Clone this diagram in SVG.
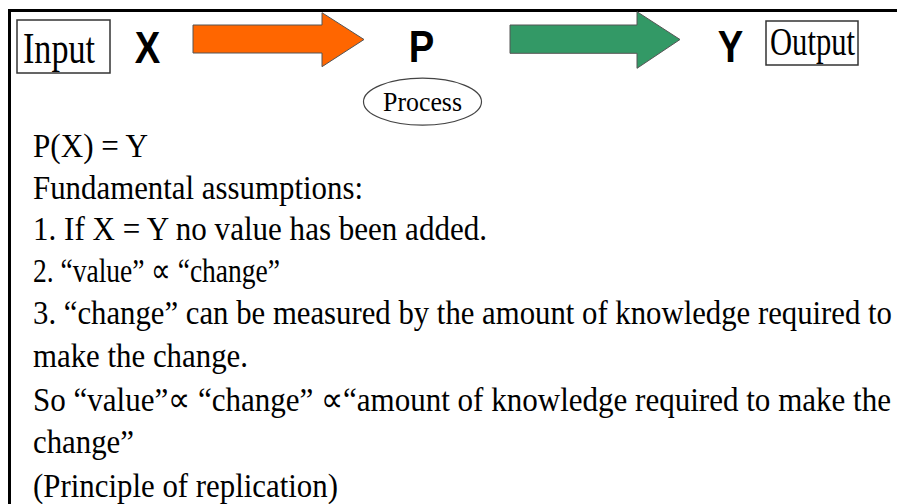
<svg xmlns="http://www.w3.org/2000/svg" width="897" height="504" viewBox="0 0 897 504">
  <style>
    .serif { font-family: "Liberation Serif", "Times New Roman", serif; fill: #000; }
    .sans-b { font-family: "Liberation Sans", Arial, sans-serif; font-weight: bold; fill: #000; }
    .box { fill: #fff; stroke: #333; stroke-width: 1.5; }
    .block { stroke: #555; stroke-width: 1; stroke-linejoin: miter; }
    .body { font-size: 34px; }
  </style>
  <rect width="897" height="504" fill="#fff"/>

  <!-- frame: top rule and left rule -->
  <g id="frame" stroke="#000" stroke-width="3" fill="none">
    <line x1="8" y1="10.5" x2="897" y2="10.5"/>
    <line x1="9.5" y1="9" x2="9.5" y2="504"/>
  </g>

  <!-- top row: input, process, output -->
  <g id="input-box">
    <rect class="box" x="17" y="20" width="93" height="53"/>
    <text class="serif" x="23" y="63" font-size="44" textLength="72" lengthAdjust="spacingAndGlyphs">Input</text>
  </g>
  <g id="x-node">
    <text class="sans-b" transform="translate(147.5,62.5) scale(0.85,1)" text-anchor="middle" font-size="45">X</text>
  </g>
  <g id="p-node">
    <text class="sans-b" transform="translate(421.5,62) scale(0.85,1)" text-anchor="middle" font-size="45">P</text>
  </g>
  <g id="process">
    <ellipse cx="422.5" cy="101.7" rx="59" ry="23.5" fill="#fff" stroke="#444" stroke-width="1.2"/>
    <text class="serif" x="383" y="110.5" font-size="28" textLength="79" lengthAdjust="spacingAndGlyphs">Process</text>
  </g>
  <g id="y-node">
    <text class="sans-b" transform="translate(730.5,62) scale(0.85,1)" text-anchor="middle" font-size="45">Y</text>
  </g>
  <g id="output-box">
    <rect class="box" x="766" y="21" width="92" height="44"/>
    <text class="serif" x="770" y="55" font-size="39" textLength="85" lengthAdjust="spacingAndGlyphs">Output</text>
  </g>

  <!-- block arrows between X, P and Y -->
  <g id="connectors">
    <path class="block" fill="#FF6600" d="M193,25 L322,25 L322,12.7 L364,39.5 L322,66.7 L322,53 L193,53 Z"/>
    <path class="block" fill="#339966" d="M510,25 L637,25 L637,11.7 L680,39.5 L637,68.3 L637,53.3 L510,53.3 Z"/>
  </g>

  <!-- statement and assumptions -->
  <g id="notes" class="serif body">
    <text x="33" y="157" textLength="115" lengthAdjust="spacingAndGlyphs">P(X) = Y</text>
    <text x="33" y="198.5" textLength="330" lengthAdjust="spacingAndGlyphs">Fundamental assumptions:</text>
    <text x="33" y="240" textLength="454" lengthAdjust="spacingAndGlyphs">1. If X = Y no value has been added.</text>
    <text x="33" y="281.5" textLength="247" lengthAdjust="spacingAndGlyphs">2. “value” ∝ “change”</text>
    <text x="33" y="324" textLength="859" lengthAdjust="spacingAndGlyphs">3. “change” can be measured by the amount of knowledge required to</text>
    <text x="33" y="367" textLength="215" lengthAdjust="spacingAndGlyphs">make the change.</text>
    <text x="33" y="411" textLength="858" lengthAdjust="spacingAndGlyphs">So “value”∝ “change” ∝“amount of knowledge required to make the</text>
    <text x="33" y="453" textLength="101" lengthAdjust="spacingAndGlyphs">change”</text>
    <text x="33" y="497" textLength="305" lengthAdjust="spacingAndGlyphs">(Principle of replication)</text>
  </g>
</svg>
